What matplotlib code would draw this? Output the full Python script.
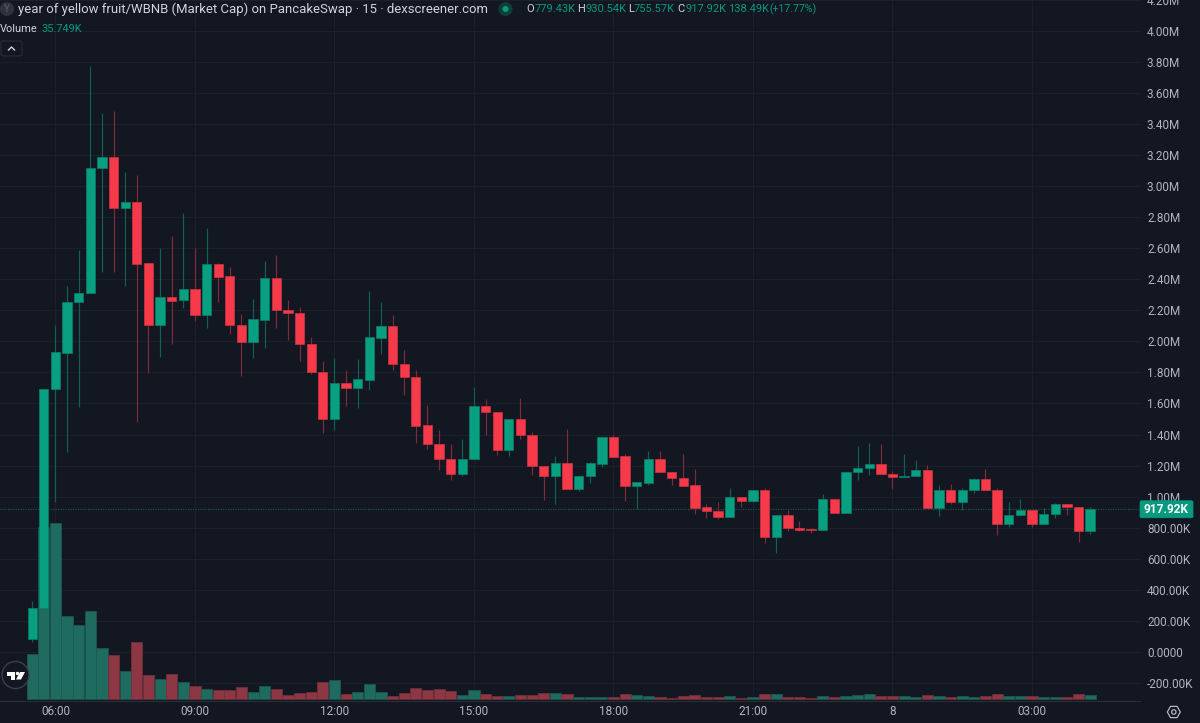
import matplotlib
matplotlib.use('Agg')
from matplotlib import pyplot as plt
from matplotlib.patches import Circle, FancyBboxPatch, Polygon, RegularPolygon
import numpy as np

plt.rcParams['font.family'] = ['Roboto', 'DejaVu Sans']

BG = '#131722'
GRID = '#1c202b'
GREEN = '#089981'
BODY_GREEN = '#09a082'
BODY_RED = '#f63a4a'

# 15 minute candles, market cap in millions
opens = [0.079, 0.281, 1.692, 1.926, 2.254, 2.310, 3.120, 3.189, 2.862, 2.899, 2.503, 2.105, 2.286, 2.265, 2.339, 2.172,
         2.499, 2.421, 2.105, 1.994, 2.139, 2.410, 2.206, 2.185, 1.983, 1.806, 1.501, 1.735, 1.697, 1.750, 2.023, 2.099,
         1.855, 1.772, 1.460, 1.342, 1.241, 1.148, 1.241, 1.581, 1.544, 1.299, 1.499, 1.400, 1.197, 1.133, 1.219, 1.047,
         1.133, 1.213, 1.383, 1.262, 1.068, 1.088, 1.245, 1.159, 1.120, 1.075, 0.931, 0.910, 0.871, 0.997, 0.972, 1.043,
         0.739, 0.879, 0.800, 0.789, 0.783, 0.981, 0.897, 1.157, 1.183, 1.208, 1.148, 1.126, 1.133, 1.170, 0.925, 1.045,
         0.965, 1.041, 1.116, 1.045, 0.821, 0.881, 0.912, 0.821, 0.890, 0.955, 0.935, 0.77943]
closes = [0.281, 1.692, 1.931, 2.254, 2.312, 3.120, 3.189, 2.862, 2.899, 2.501, 2.105, 2.286, 2.262, 2.339, 2.172, 2.499,
          2.417, 2.103, 1.994, 2.142, 2.410, 2.202, 2.181, 1.981, 1.802, 1.501, 1.735, 1.697, 1.755, 2.026, 2.099, 1.855,
          1.770, 1.458, 1.339, 1.239, 1.148, 1.245, 1.581, 1.542, 1.299, 1.499, 1.397, 1.195, 1.133, 1.219, 1.047, 1.135,
          1.217, 1.383, 1.258, 1.068, 1.092, 1.245, 1.157, 1.118, 1.071, 0.926, 0.905, 0.871, 0.997, 0.972, 1.043, 0.739,
          0.879, 0.797, 0.783, 0.783, 0.981, 0.897, 1.159, 1.185, 1.208, 1.146, 1.129, 1.135, 1.170, 0.925, 1.045, 0.965,
          1.043, 1.116, 1.043, 0.821, 0.884, 0.912, 0.821, 0.890, 0.955, 0.933, 0.778, 0.91792]
highs = [0.325, 1.692, 2.105, 2.357, 2.589, 3.778, 3.475, 3.488, 3.092, 3.075, 2.503, 2.602, 2.681, 2.826, 2.604, 2.731,
         2.507, 2.479, 2.174, 2.273, 2.516, 2.557, 2.266, 2.223, 2.030, 1.873, 1.894, 1.817, 1.884, 2.325, 2.252, 2.168,
         1.944, 1.815, 1.589, 1.432, 1.339, 1.370, 1.707, 1.628, 1.544, 1.503, 1.634, 1.415, 1.197, 1.262, 1.434, 1.135,
         1.223, 1.383, 1.395, 1.277, 1.092, 1.292, 1.292, 1.159, 1.273, 1.176, 0.950, 0.963, 1.052, 0.997, 1.043, 1.054,
         0.879, 0.912, 0.841, 0.795, 1.019, 0.987, 1.159, 1.325, 1.346, 1.337, 1.163, 1.277, 1.234, 1.202, 1.073, 1.084,
         1.054, 1.118, 1.178, 1.058, 0.965, 0.981, 0.912, 0.923, 0.961, 0.955, 0.935, 0.93054]
lows = [0.060, 0.281, 0.963, 1.288, 1.576, 2.310, 2.449, 2.447, 2.359, 1.481, 1.795, 1.901, 1.985, 2.215, 2.129, 2.088,
        2.252, 2.047, 1.776, 1.894, 1.955, 2.088, 2.008, 1.871, 1.789, 1.410, 1.430, 1.583, 1.568, 1.686, 1.918, 1.815,
        1.654, 1.346, 1.305, 1.174, 1.107, 1.133, 1.241, 1.397, 1.266, 1.262, 1.370, 1.137, 0.976, 0.955, 1.047, 1.034,
        1.086, 1.189, 1.258, 0.972, 0.918, 1.073, 1.157, 1.073, 1.071, 0.886, 0.862, 0.855, 0.871, 0.931, 0.963, 0.701,
        0.634, 0.776, 0.776, 0.765, 0.783, 0.897, 0.897, 1.105, 1.139, 1.146, 1.047, 1.126, 1.133, 0.925, 0.877, 0.950,
        0.916, 1.026, 1.043, 0.755, 0.804, 0.881, 0.802, 0.821, 0.860, 0.884, 0.707, 0.75557]
# volume in thousands
volumes = [436, 1665, 1707, 808, 715, 851, 492, 430, 269, 553, 233, 194, 245, 162, 126, 97, 87, 87, 119, 65, 126, 97, 39,
           55, 65, 168, 187, 46, 65, 146, 65, 32, 61, 107, 90, 97, 81, 39, 87, 46, 29, 29, 39, 39, 55, 61, 46, 22, 19, 22,
           19, 49, 39, 29, 19, 13, 29, 39, 19, 19, 29, 13, 19, 49, 46, 22, 16, 13, 32, 19, 32, 42, 51, 26, 32, 26, 19, 39,
           32, 19, 26, 19, 26, 51, 29, 26, 32, 19, 19, 19, 51, 35.749]

price_ticks = [-0.2, 0.0, 0.2, 0.4, 0.6, 0.8, 1.0, 1.2, 1.4, 1.6, 1.8, 2.0, 2.2, 2.4, 2.6, 2.8, 3.0, 3.2, 3.4, 3.6, 3.8, 4.0, 4.2]
price_labels = ['-200.00K', '0.0000', '200.00K', '400.00K', '600.00K', '800.00K', '1.00M', '1.20M', '1.40M', '1.60M', '1.80M',
                '2.00M', '2.20M', '2.40M', '2.60M', '2.80M', '3.00M', '3.20M', '3.40M', '3.60M', '3.80M', '4.00M', '4.20M']
time_ticks = [2, 14, 26, 38, 50, 62, 74, 86]
time_labels = ['06:00', '09:00', '12:00', '15:00', '18:00', '21:00', '8', '03:00']
last_close = closes[-1]

opens = np.array(opens)
closes = np.array(closes)
highs = np.array(highs)
lows = np.array(lows)
x = np.arange(len(opens))
up = closes >= opens

fig = plt.figure(figsize=(12, 7.23), dpi=100, facecolor=BG)
rect = [0, 22 / 723, 1140 / 1200, 701 / 723]
xlim = (-2.77, 95.29)
ylim = (-0.3184, 4.2019)

# grid and price/time scales at the back, volume over it, candles in front
ax_grid = fig.add_axes(rect, facecolor=BG, zorder=0)
ax_grid.set_xlim(xlim)
ax_grid.set_ylim(ylim)
ax_grid.yaxis.tick_right()
ax_grid.set_yticks(price_ticks)
ax_grid.set_yticklabels(price_labels, ha='left', va='center_baseline')
ax_grid.set_xticks(time_ticks)
ax_grid.set_xticklabels(time_labels)
ax_grid.tick_params(axis='both', length=0, labelcolor='#b2b5be', labelsize=8.5)
ax_grid.tick_params(axis='y', pad=5)
ax_grid.tick_params(axis='x', pad=3)
ax_grid.grid(True, color=GRID, lw=0.8)
ax_grid.set_axisbelow(True)
for s in ['top', 'left', 'right']:
    ax_grid.spines[s].set_visible(False)
ax_grid.spines['bottom'].set_color('#2a2e39')
ax_grid.spines['bottom'].set_linewidth(0.8)

ax_vol = fig.add_axes(rect, zorder=1)
ax_vol.patch.set_visible(False)
ax_vol.set_xlim(xlim)
ax_vol.set_ylim(-19.4, 6780)
ax_vol.axis('off')
vol_colors = ['#1f6b60' if u else '#8c3743' for u in up]
vol_edges = ['#1a5a52' if u else '#75303b' for u in up]
ax_vol.bar(x, volumes, width=0.96, color=vol_colors, edgecolor=vol_edges, lw=0.5)

ax = fig.add_axes(rect, zorder=2)
ax.patch.set_visible(False)
ax.set_xlim(xlim)
ax.set_ylim(ylim)
ax.axis('off')
ax.axhline(last_close, color='#17504b', lw=0.9, ls=(0, (1, 1)))
wick_colors = ['#0e5f54' if u else '#7d2c38' for u in up]
ax.vlines(x, lows, highs, colors=wick_colors, lw=0.85, zorder=2)
body_colors = [BODY_GREEN if u else BODY_RED for u in up]
body_edges = ['#0a7f6a' if u else '#cf3341' for u in up]
# bodies have to sit above the wicks
ax.bar(x, np.abs(closes - opens), bottom=np.minimum(opens, closes), width=0.8,
       color=body_colors, edgecolor=body_edges, lw=0.5, zorder=3)

# legend text, tag and small icons, placed in screen pixels
top = fig.add_axes([0, 0, 1, 1], zorder=3)
top.patch.set_visible(False)
top.set_xlim(0, 1200)
top.set_ylim(723, 0)
top.axis('off')

top.add_patch(Circle((7, 9), 7, color='#2f333e', lw=0))
top.text(7, 9, 'Y', color='#5d606b', fontsize=7, ha='center', va='center')
top.text(17.5, 9, 'year of yellow fruit/WBNB (Market Cap) on PancakeSwap · 15 · dexscreener.com',
         color='#d1d4dc', fontsize=9.42, va='center')
top.add_patch(Circle((505.5, 9), 7, color='#0f3d3a', lw=0))
top.add_patch(Circle((505.5, 9), 3, color=GREEN, lw=0))
ohlc = [(526, 'O', 534.5, '779.43K'), (577, 'H', 585, '930.54K'), (628, 'L', 634, '755.57K'), (677, 'C', 685, '917.92K')]
for lx, letter, vx, value in ohlc:
    top.text(lx, 9, letter, color='#d1d4dc', fontsize=8.0, va='center')
    top.text(vx, 9, value, color=GREEN, fontsize=8.0, va='center')
top.text(728, 9, '138.49K', color=GREEN, fontsize=8.0, va='center')
top.text(769, 9, '(+17.77%)', color=GREEN, fontsize=7.6, va='center')

top.text(-0.5, 29, 'Volume', color='#d1d4dc', fontsize=7.9, va='center')
top.text(41, 29, '35.749K', color=GREEN, fontsize=7.9, va='center')

top.add_patch(FancyBboxPatch((1, 41), 21, 15, boxstyle='round,pad=0,rounding_size=2', fc=BG, ec='#2a2e39', lw=0.8))
top.plot([8.5, 11.5, 14.5], [50, 47, 50], color='#d1d4dc', lw=1)

# price tag for the last close
tag_y = ax.transData.transform((0, last_close))[1]
tag_y = 723 - tag_y
top.add_patch(FancyBboxPatch((1140, tag_y - 8.5), 53, 17, boxstyle='round,pad=0,rounding_size=1.5', fc=GREEN, ec=GREEN, lw=0.5))
top.text(1166.5, tag_y, '917.92K', color='white', fontsize=8.6, fontweight='bold', ha='center', va='center')

# round logo in the lower left corner
top.add_patch(Circle((15.5, 675), 13.5, fc=BG, ec='#3b3f4a', lw=1))
top.add_patch(Polygon([[7, 672], [15, 672], [15, 679.5], [11, 679.5], [11, 675.5], [7, 675.5]], fc='white', lw=0))
top.add_patch(Circle((17.5, 673.5), 1.7, fc='white', lw=0))
top.add_patch(Polygon([[20, 672], [25, 672], [21, 679.5], [16, 679.5]], fc='white', lw=0))

# settings icon under the price scale
top.add_patch(RegularPolygon((1173.8, 712), 6, radius=6.5, fill=False, ec='#b2b5be', lw=0.9, orientation=np.pi / 6))
top.add_patch(Circle((1173.8, 712), 2.2, fill=False, ec='#b2b5be', lw=0.9))

fig.savefig('out.png', dpi=100, facecolor=BG)
